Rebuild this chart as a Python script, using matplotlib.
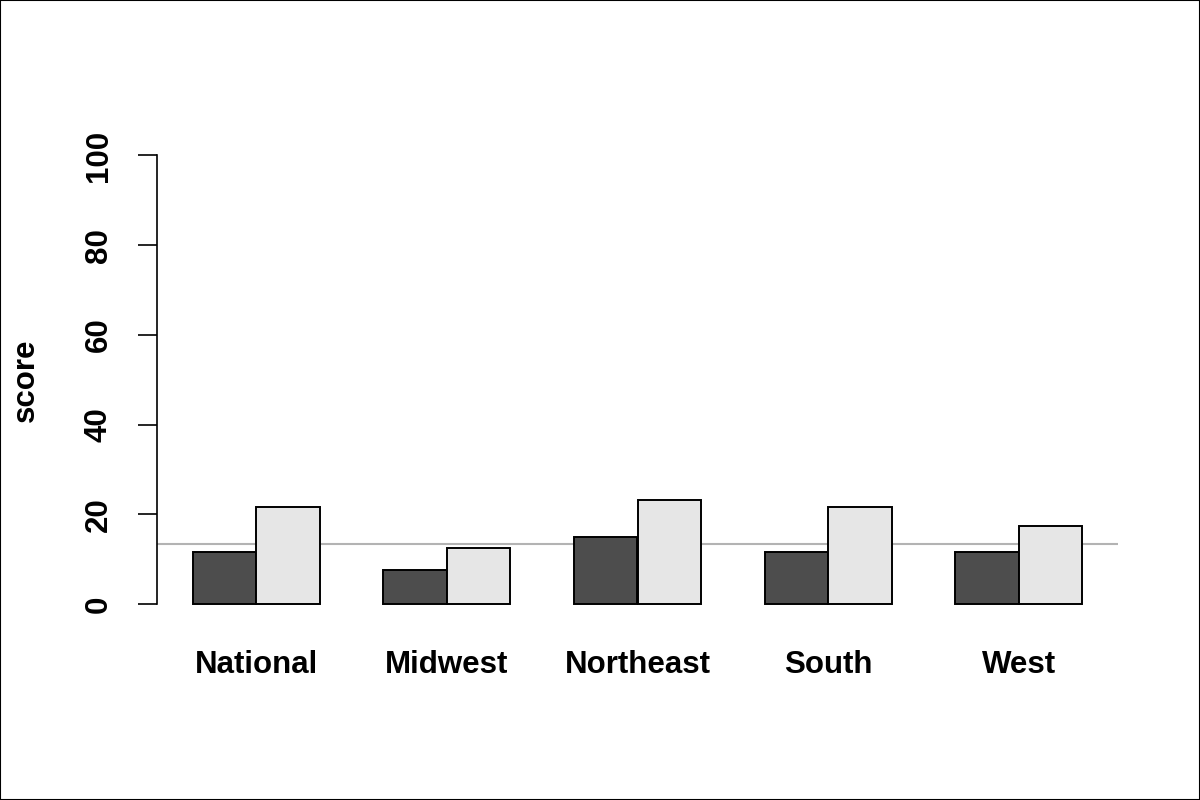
import matplotlib
matplotlib.use("Agg")
import matplotlib.pyplot as plt
from matplotlib.patches import Rectangle
import numpy as np

categories = ["National", "Midwest", "Northeast", "South", "West"]
series_dark = [11.7, 7.5, 14.9, 11.7, 11.7]
series_light = [21.6, 12.4, 23.2, 21.6, 17.5]
reference_line = 13.4
y_ticks = [0, 20, 40, 60, 80, 100]

plt.rcParams['font.family'] = ['Liberation Sans', 'DejaVu Sans']
plt.rcParams['font.weight'] = 'bold'

FS = 22.5

fig = plt.figure(figsize=(12, 8), dpi=100)
ax = fig.add_axes([157/1200, 1-622/800, (1118-157)/1200, (622-137.5)/800])

idx = np.arange(len(categories))
left_dark = 1 + 3*idx
left_light = 2 + 3*idx
ax.bar(left_dark, series_dark, width=1, align='edge', color='#4d4d4d',
       edgecolor='black', linewidth=1.4, zorder=3)
ax.bar(left_light, series_light, width=1, align='edge', color='#e6e6e6',
       edgecolor='black', linewidth=1.4, zorder=3)
ax.axhline(reference_line, color='#b3b3b3', linewidth=1.5, zorder=2)

ax.set_xlim(0.44, 15.56)
ax.set_ylim(-4, 104)

for s in ['top', 'right', 'bottom']:
    ax.spines[s].set_visible(False)
ax.spines['left'].set_bounds(0, 100)
ax.spines['left'].set_linewidth(1.2)

ax.set_yticks(y_ticks)
ax.set_yticklabels([str(v) for v in y_ticks], rotation=90, va='center',
                   fontsize=FS, fontweight='bold')
ax.tick_params(axis='y', length=14, width=1.2, pad=17)

ax.set_xticks(2 + 3*idx)
ax.set_xticklabels(categories, fontsize=FS, fontweight='bold')
ax.tick_params(axis='x', length=0, pad=20)

fig.text(26/1200, 1-380/800, 'score', rotation=90, va='center', ha='center',
         fontsize=FS, fontweight='bold')

fig.patches.append(Rectangle((0, 0), 1, 1, transform=fig.transFigure,
                             fill=False, edgecolor='black', linewidth=1.5))

fig.savefig('out.png', dpi=100)
